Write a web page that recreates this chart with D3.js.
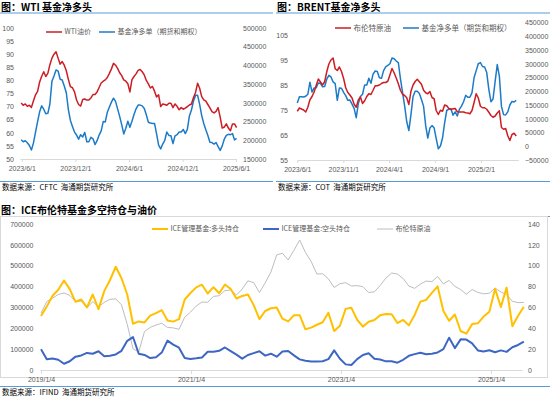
<!DOCTYPE html>
<html>
<head>
<meta charset="utf-8">
<script src="https://cdn.jsdelivr.net/npm/d3@7"></script>
<style>
  body { margin: 0; background: #fff; }
  .src { white-space: pre; }
</style>
</head>
<body>
<svg id="chart" width="550" height="399"></svg>
<script>
// ---- data (weekly series) ----
var wtiStart = "2023-05-30";
var wtiPrice = [71.4,70.5,71.0,70.1,70.5,69.7,72.2,74.5,75.8,79.4,
  81.6,83.3,81.5,82.7,86.0,88.5,90.0,90.9,88.5,86.2,
  87.2,85.8,83.7,80.4,77.6,77.2,75.6,72.5,70.8,70.2,
  72.7,72.9,72.5,72.5,73.3,74.6,74.6,75.6,77.3,79.0,
  79.7,80.2,81.1,82.7,84.4,86.5,85.8,84.6,82.9,81.8,
  80.2,79.7,78.7,75.6,80.3,81.5,82.5,83.8,84.2,83.3,
  82.1,80.0,78.7,77.1,77.7,75.9,73.7,74.5,70.0,71.0,
  70.8,70.5,71.3,71.3,69.6,71.0,70.1,68.8,69.6,69.0,
  69.4,70.0,70.6,71.0,73.5,75.4,78.9,77.0,73.8,72.6,
  72.1,70.8,69.5,68.1,67.6,68.2,69.6,66.0,61.8,62.2,
  63.4,61.8,60.8,63.4,63.4,62.0];
var wtiNetLong = [201600,196000,198800,193500,186000,174000,193000,222000,250000,276000,
  292000,283000,271000,272000,297000,358000,372000,388000,385000,363000,
  361000,345000,327000,282000,253000,237000,222000,214000,203000,215000,
  209000,221000,196000,196000,208000,204000,188500,199000,214000,225000,
  250000,249000,275000,289000,302000,312500,304000,284000,264000,242000,
  217000,232000,251000,235000,251000,269000,284000,294000,294000,292000,
  285000,268000,248000,246000,245000,245000,217000,187000,177000,190000,
  200000,222000,213000,212000,191000,212000,215000,222000,222000,229000,
  218000,229000,265000,281000,305000,320000,320000,296000,266000,245000,
  228000,213000,195000,194000,190000,194000,183000,173000,185000,203000,
  213000,216000,215000,218000,201000,205000];

var brentStart = "2023-06-01";
var brentPrice = [74.5,75.8,75.4,75.0,74.2,76.1,79.1,80.4,82.2,84.9,
  87.4,86.2,85.0,86.3,90.3,93.4,95.0,95.8,91.5,90.8,
  92.2,90.4,87.6,83.9,82.0,81.0,79.8,77.3,76.1,79.0,
  80.2,77.6,78.7,80.4,81.5,81.2,82.9,84.7,84.7,85.0,
  85.6,86.0,86.0,86.5,89.0,91.6,89.9,87.8,85.5,82.9,
  81.3,80.8,79.9,77.2,82.5,85.0,86.4,87.3,86.3,85.3,
  82.9,81.9,81.5,82.4,80.0,79.5,74.8,73.2,74.9,74.5,
  77.0,76.7,75.6,75.2,75.5,75.6,74.3,74.2,74.2,74.2,
  73.9,73.8,73.5,74.8,78.0,81.5,79.8,76.5,75.9,75.9,
  75.3,74.1,72.8,72.1,72.6,73.8,74.7,68.0,67.3,67.6,
  64.7,62.8,65.2,65.7,64.6];
var brentNetLong = [157300,180000,180000,179000,182000,189000,233000,197000,212000,213000,
  230000,229000,216000,217000,244000,258000,252000,234000,228000,167000,
  212000,211000,196000,184000,167000,168000,153000,138000,104000,155000,
  181000,189000,223000,223000,247000,229000,262000,273500,272000,249000,
  247000,275000,289000,294000,300000,321000,318000,310000,304000,246000,
  196000,147000,89000,57000,115000,181000,200000,200000,192000,170000,
  145000,75000,30000,66000,75000,67000,28000,-9000,1000,30000,
  85000,130000,135000,136000,113000,125000,110000,134000,146000,162000,
  185000,178000,178000,195000,250000,275000,300000,304000,290000,288000,
  268000,207000,162000,172000,236000,297000,255000,145000,115000,114000,
  125000,150000,163000,161000,167000];

// ICE: one reading every 4 weeks
var iceStart = "2019-01-04";
var iceLong = [259000,304000,356000,385000,429000,388000,327000,338000,300000,362000,
  292000,378000,431500,495000,440000,362000,222000,233000,228000,261000,
  273000,287000,237000,232000,244000,338000,369000,396000,409000,367000,
  397000,368000,410000,388000,343000,355000,362000,311000,244000,283000,
  296000,300000,246000,233000,262000,263000,195000,203000,217000,229000,
  274000,187000,212000,293000,298000,241000,208000,231000,240000,263000,
  268000,267000,225000,240000,214000,264000,328000,336000,370000,401000,
  283000,236000,266000,187000,174000,220000,224000,256000,279000,389000,
  302000,395000,210000,260000,303000];
var iceShort = [100000,52000,55000,49000,30000,42000,64000,70000,82000,78000,
  90000,66000,68700,74500,92000,140000,158000,78000,72000,57000,
  61000,83500,141000,122000,107000,58000,53000,56000,60000,87500,
  87000,92000,108000,90500,73500,54500,71900,81000,90000,69000,
  78000,64000,88500,91000,70000,51000,44000,40500,41000,42000,
  52000,94000,54000,27000,23900,52000,72000,80000,54000,50000,
  41500,41500,35000,49000,68000,76000,83000,75500,78000,84000,
  100000,155000,105000,147000,146000,128000,94000,89000,95000,85000,
  94000,87000,109000,120000,136000];
var icePrice = [54.5,65.6,68.9,72.4,73.9,71.5,65.6,66.0,59.5,65.6,
  60.6,64.9,67.8,68.2,62.5,43.8,20.3,17.4,36.9,40.9,
  43.1,44.8,40.8,40.4,39.0,50.6,55.5,61.4,65.2,64.9,
  70.6,71.2,76.2,76.8,71.9,77.7,85.5,83.8,74.2,83.6,
  94.0,110.3,112.0,105.5,114.8,124.6,112.7,104.0,92.0,92.3,
  87.4,79.1,82.7,83.7,80.6,80.9,79.9,74.3,75.0,81.0,
  88.2,93.0,92.0,87.7,80.5,78.3,82.3,85.3,84.7,89.7,
  82.5,85.9,80.2,77.2,72.6,77.2,74.4,73.0,73.6,78.6,
  74.8,72.3,65.9,64.6,64.8];

// tick values
var wtiXTicks = ["2023-06-01","2023-12-01","2024-06-01","2024-12-01","2025-06-01"];
var wtiLeftTicks = [50,55,60,65,70,75,80,85,90,95,100];
var wtiRightTicks = [150000,200000,250000,300000,350000,400000,450000,500000];
var brentXTicks = ["2023-06-01","2023-11-01","2024-04-01","2024-09-01","2025-02-01"];
var brentLeftTicks = [55,65,75,85,95,105];
var brentRightTicks = [-50000,0,50000,100000,150000,200000,250000,300000,350000,400000,450000];
var iceXTicks = ["2019-01-04","2021-01-04","2023-01-04","2025-01-04"];
var iceLeftTicks = [0,100000,200000,300000,400000,500000,600000,700000];
var iceRightTicks = [0,20,40,60,80,100,120,140];

var FONT = '"Noto Sans CJK SC","Noto Sans",sans-serif';
var NUMFONT = '"Liberation Sans",Arial,sans-serif';
var RED = "#cc1d24", BLUE = "#1c7bc8";
var YELLOW = "#ffc000", DKBLUE = "#3d67c2", GRAY = "#bdbdbd";
var LABEL = "#595959", AXIS = "#d9d9d9", RULE = "#5b9bd5";

var parse = d3.timeParse("%Y-%m-%d");
var fmt = d3.timeFormat("%Y/%-m/%-d");
var num = d3.format("d");
var svg = d3.select("#chart");

function series(start, step, values) {
  var d0 = parse(start);
  return values.map(function (v, i) { return { date: d3.timeDay.offset(d0, step * i), v: v }; });
}

function styleAxis(a) {
  a.attr("font-family", NUMFONT).attr("font-size", 7);
  a.selectAll("text").attr("fill", LABEL);
  a.selectAll("line").attr("stroke", AXIS);
  a.select(".domain").attr("stroke", AXIS);
}

function header(x, y, w, title, source, srcY) {
  svg.append("text").attr("x", x + 1).attr("y", y)
    .attr("font-family", FONT).attr("font-weight", "bold").attr("font-size", 10)
    .attr("fill", "#000").text(title);
  svg.append("line").attr("x1", x).attr("x2", x + w).attr("y1", y + 2.5).attr("y2", y + 2.5)
    .attr("stroke", RULE).attr("stroke-width", 1);
  svg.append("line").attr("x1", x).attr("x2", x + w).attr("y1", srcY).attr("y2", srcY)
    .attr("stroke", RULE).attr("stroke-width", 1);
  svg.append("text").attr("class", "src").attr("x", x + 2).attr("y", srcY + 8)
    .attr("font-family", FONT).attr("font-size", 7.5).attr("fill", "#000").text(source);
}

function legend(items, y, size) {
  items.forEach(function (it) {
    svg.append("line").attr("x1", it.x).attr("x2", it.x + 16).attr("y1", y).attr("y2", y)
      .attr("stroke", it.color).attr("stroke-width", it.w);
    svg.append("text").attr("x", it.x + 18.5).attr("y", y).attr("dy", "0.35em")
      .attr("font-family", FONT).attr("font-size", size).attr("fill", LABEL).text(it.label);
  });
}

// ---- generic dual-axis panel ----
function dualPanel(o) {
  var x = d3.scaleTime().domain(o.xDomain.map(parse)).range(o.xRange);
  var yL = d3.scaleLinear().domain(o.yL).range(o.yRange);
  var yR = d3.scaleLinear().domain(o.yR).range(o.yRange);

  svg.append("g").attr("transform", "translate(" + o.leftEdge + ",0)")
    .call(d3.axisLeft(yL).tickValues(o.leftTicks).tickFormat(num).tickSize(0).tickPadding(0))
    .call(styleAxis).call(function (a) { a.select(".domain").remove(); });

  svg.append("g").attr("transform", "translate(" + o.rightEdge + ",0)")
    .call(d3.axisRight(yR).tickValues(o.rightTicks).tickFormat(num).tickSize(0).tickPadding(0))
    .call(styleAxis).call(function (a) { a.select(".domain").remove(); });

  svg.append("g").attr("transform", "translate(0," + o.yRange[0] + ")")
    .call(d3.axisBottom(x).tickValues(o.xTicks.map(parse)).tickFormat(fmt)
      .tickSize(o.tick).tickSizeOuter(0).tickPadding(o.pad))
    .call(styleAxis);

  o.lines.forEach(function (ln) {
    var y = ln.axis === "left" ? yL : yR;
    svg.append("path").datum(ln.data)
      .attr("fill", "none").attr("stroke", ln.color).attr("stroke-width", ln.w)
      .attr("stroke-linejoin", "round")
      .attr("d", d3.line().x(function (d) { return x(d.date); }).y(function (d) { return y(d.v); }));
  });
}

// ---- WTI ----
header(0, 10.5, 273, "图：WTI 基金净多头", "数据来源：CFTC  海通期货研究所", 181.5);
dualPanel({
  xDomain: ["2023-05-26", "2025-06-01"], xRange: [20, 236],
  yL: [50, 100], yR: [150000, 500000], yRange: [159, 28],
  leftEdge: 14, rightEdge: 243,
  leftTicks: wtiLeftTicks, rightTicks: wtiRightTicks, xTicks: wtiXTicks,
  tick: 3, pad: 4,
  lines: [
    { data: series(wtiStart, 7, wtiNetLong), axis: "right", color: BLUE, w: 1.5 },
    { data: series(wtiStart, 7, wtiPrice), axis: "left", color: RED, w: 1.5 }
  ]
});
legend([
  { x: 46, color: RED, w: 1.5, label: "WTI油价" },
  { x: 99, color: BLUE, w: 1.5, label: "基金净多单（期货和期权）" }
], 32, 7);

// ---- BRENT ----
header(276, 10.5, 274, "图：BRENT基金净多头", "数据来源：COT  海通期货研究所", 181.5);
dualPanel({
  xDomain: ["2023-06-01", "2025-06-05"], xRange: [297.3, 518.3],
  yL: [55, 110], yR: [-50000, 450000], yRange: [160, 22.5],
  leftEdge: 288, rightEdge: 525,
  leftTicks: brentLeftTicks, rightTicks: brentRightTicks, xTicks: brentXTicks,
  tick: 3, pad: 4,
  lines: [
    { data: series(brentStart, 7, brentNetLong), axis: "right", color: BLUE, w: 1.5 },
    { data: series(brentStart, 7, brentPrice), axis: "left", color: RED, w: 1.5 }
  ]
});
legend([
  { x: 335, color: RED, w: 1.5, label: "布伦特原油" },
  { x: 403, color: BLUE, w: 1.5, label: "基金净多单（期货和期权）" }
], 28, 7.5);

// ---- ICE ----
header(0, 214, 550, "图：ICE布伦特基金多空持仓与油价", "数据来源：IFIND  海通期货研究所", 386.5);
svg.append("rect").attr("x", 0.5).attr("y", 216.5).attr("width", 547).attr("height", 161)
  .attr("fill", "none").attr("stroke", AXIS);
dualPanel({
  xDomain: ["2018-12-30", "2025-06-04"], xRange: [40, 522],
  yL: [0, 700000], yR: [0, 140], yRange: [370, 224],
  leftEdge: 33.5, rightEdge: 528,
  leftTicks: iceLeftTicks, rightTicks: iceRightTicks, xTicks: iceXTicks,
  tick: 4, pad: 3,
  lines: [
    { data: series(iceStart, 28, icePrice), axis: "right", color: GRAY, w: 1 },
    { data: series(iceStart, 28, iceLong), axis: "left", color: YELLOW, w: 2 },
    { data: series(iceStart, 28, iceShort), axis: "left", color: DKBLUE, w: 2 }
  ]
});
legend([
  { x: 152, color: YELLOW, w: 2, label: "ICE管理基金:多头持仓" },
  { x: 263, color: DKBLUE, w: 2, label: "ICE管理基金:空头持仓" },
  { x: 377, color: GRAY, w: 1, label: "布伦特原油" }
], 229, 7);
</script>
</body>
</html>
